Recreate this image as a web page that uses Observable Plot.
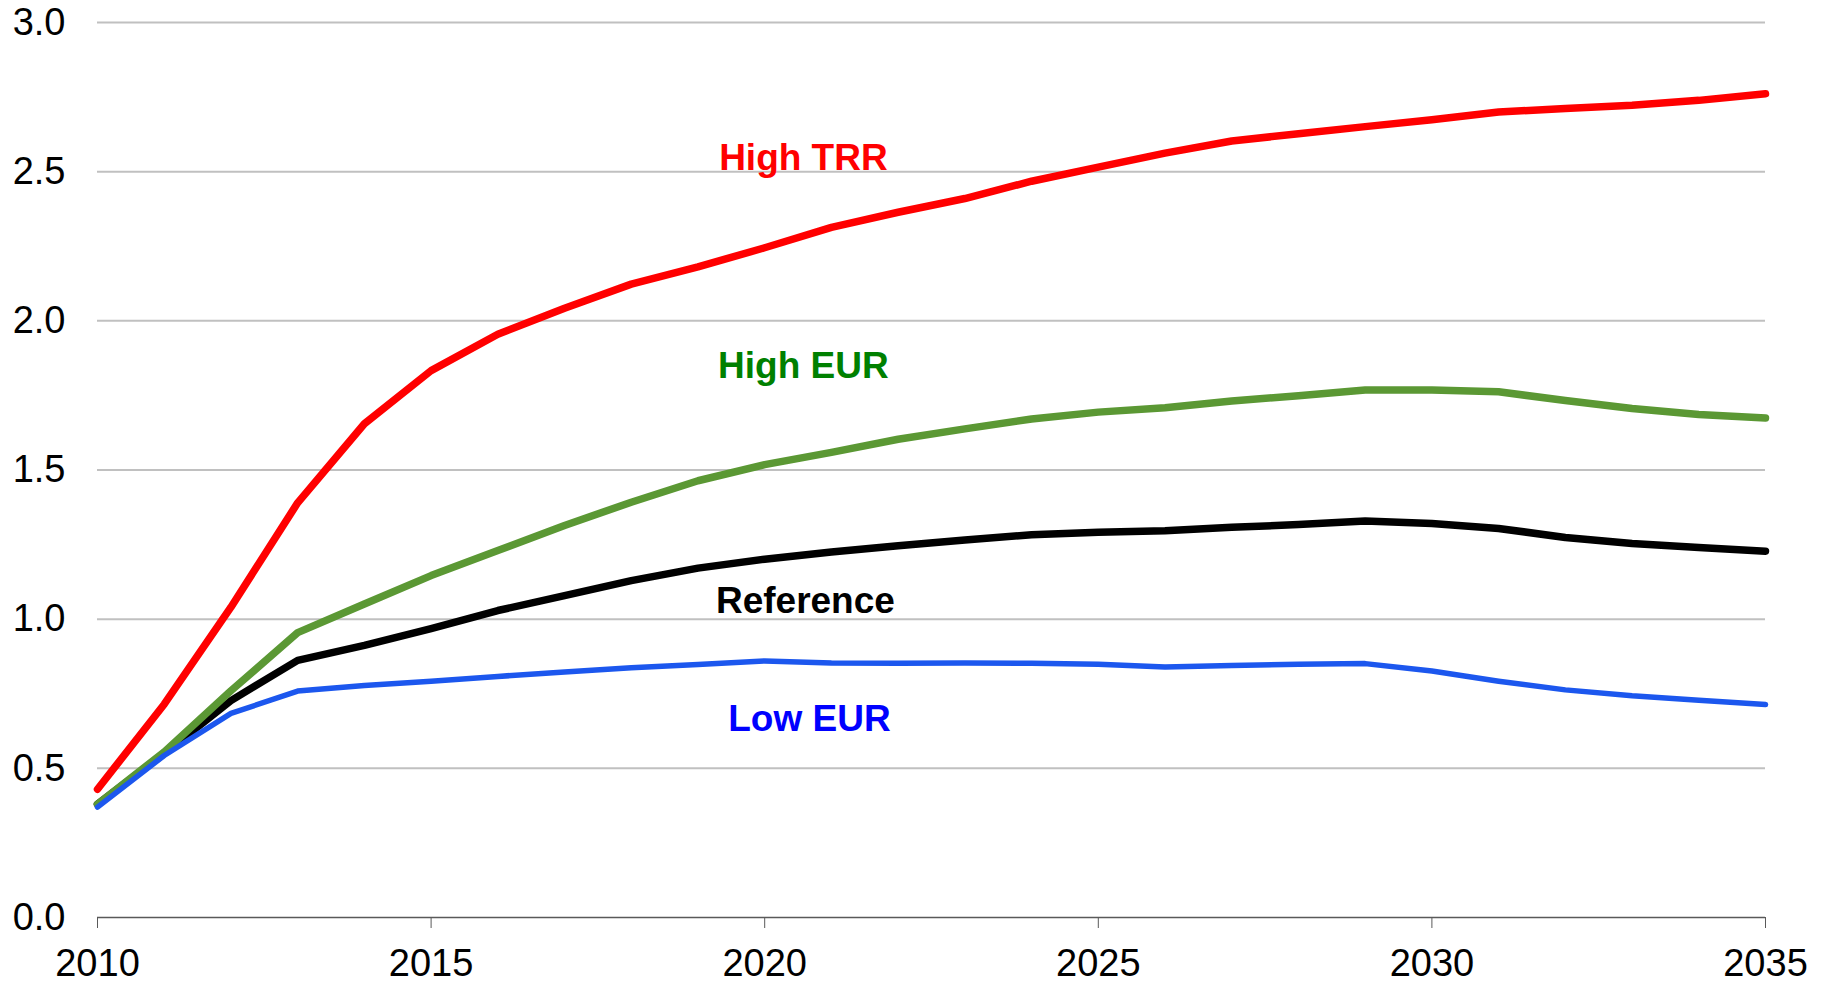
<!DOCTYPE html>
<html>
<head>
<meta charset="utf-8">
<script src="https://cdn.jsdelivr.net/npm/d3@7"></script>
<script src="https://cdn.jsdelivr.net/npm/@observablehq/plot@0.6"></script>
<style>
  html, body { margin: 0; padding: 0; background: #fff; }
  #chart svg { display: block; }
</style>
</head>
<body>
<div id="chart"></div>
<script>
// ---- Data ----
const years = [2010, 2011, 2012, 2013, 2014, 2015, 2016, 2017, 2018, 2019, 2020, 2021, 2022,
               2023, 2024, 2025, 2026, 2027, 2028, 2029, 2030, 2031, 2032, 2033, 2034, 2035];

const highTRR   = [0.43, 0.715, 1.04, 1.39, 1.655, 1.833, 1.955, 2.042, 2.123, 2.181, 2.245, 2.313, 2.364,
                   2.410, 2.468, 2.515, 2.562, 2.603, 2.627, 2.651, 2.674, 2.700, 2.712, 2.723, 2.739, 2.761];
const highEUR   = [0.38, 0.555, 0.76, 0.955, 1.051, 1.146, 1.230, 1.314, 1.392, 1.464, 1.518, 1.559, 1.603,
                   1.638, 1.671, 1.694, 1.709, 1.731, 1.749, 1.768, 1.768, 1.762, 1.733, 1.706, 1.686, 1.674];
const reference = [0.38, 0.55, 0.727, 0.862, 0.912, 0.968, 1.029, 1.079, 1.129, 1.171, 1.201, 1.225, 1.246,
                   1.265, 1.283, 1.291, 1.296, 1.308, 1.317, 1.329, 1.321, 1.304, 1.274, 1.254, 1.240, 1.228];
const lowEUR    = [0.37, 0.543, 0.684, 0.759, 0.778, 0.792, 0.808, 0.823, 0.837, 0.848, 0.860, 0.853, 0.852,
                   0.853, 0.852, 0.849, 0.840, 0.845, 0.849, 0.851, 0.826, 0.792, 0.763, 0.743, 0.728, 0.714];

const xTicks = [2010, 2015, 2020, 2025, 2030, 2035];
const yTicks = [0, 0.5, 1.0, 1.5, 2.0, 2.5, 3.0];

// series labels (text, anchor year, anchor value at baseline)
const labelNames  = ["High TRR", "High EUR", "Reference", "Low EUR"];
const labelYears  = [2020.58, 2020.58, 2020.61, 2020.67];
const labelValues = [2.504, 1.807, 1.019, 0.624];
const labelColors = ["#ff0000", "#008000", "#000000", "#0000ff"];

// ---- Build tables ----
const seriesDefs = [
  {name: "Reference", values: reference, color: "#000000", width: 7.5},
  {name: "High EUR",  values: highEUR,   color: "#5b9834", width: 7.5},
  {name: "Low EUR",   values: lowEUR,    color: "#1c57ee", width: 5.5},
  {name: "High TRR",  values: highTRR,   color: "#ff0000", width: 7.5}
];
const lineMarks = seriesDefs.map(s =>
  Plot.line(years.map((yr, i) => ({year: yr, value: s.values[i]})), {
    x: "year", y: "value", stroke: s.color, strokeWidth: s.width,
    strokeLinecap: "round", strokeLinejoin: "round"
  })
);
const labels = labelNames.map((t, i) => ({text: t, year: labelYears[i], value: labelValues[i], color: labelColors[i]}));

const chart = Plot.plot({
  width: 1825,
  height: 987,
  marginLeft: 97,
  marginRight: 60,
  marginTop: 22,
  marginBottom: 70,
  style: {
    fontFamily: "'Liberation Sans', Arial, Helvetica, sans-serif",
    fontSize: "38px",
    background: "#ffffff",
    color: "#000000",
    overflow: "visible"
  },
  x: {domain: [2010, 2035], label: null},
  y: {domain: [0, 3], label: null},
  marks: [
    Plot.gridY(yTicks.filter(v => v > 0), {stroke: "#c0c0c0", strokeOpacity: 1, strokeWidth: 2}),
    Plot.ruleY([0], {stroke: "#595959", strokeWidth: 1.3}),
    Plot.axisX({ticks: xTicks, tickFormat: d => String(d), tickSize: 11, tickPadding: 21,
                stroke: "#595959", fill: "#000000", label: null}),
    Plot.axisY({ticks: yTicks, tickFormat: d3.format(".1f"), tickSize: 0, tickPadding: 32,
                fill: "#000000", label: null}),
    ...lineMarks,
    Plot.text(labels, {x: "year", y: "value", text: "text", fill: d => d.color,
                       fontWeight: "bold", fontSize: 37, lineAnchor: "bottom", textAnchor: "middle"})
  ]
});

document.getElementById("chart").appendChild(chart);
</script>
</body>
</html>
